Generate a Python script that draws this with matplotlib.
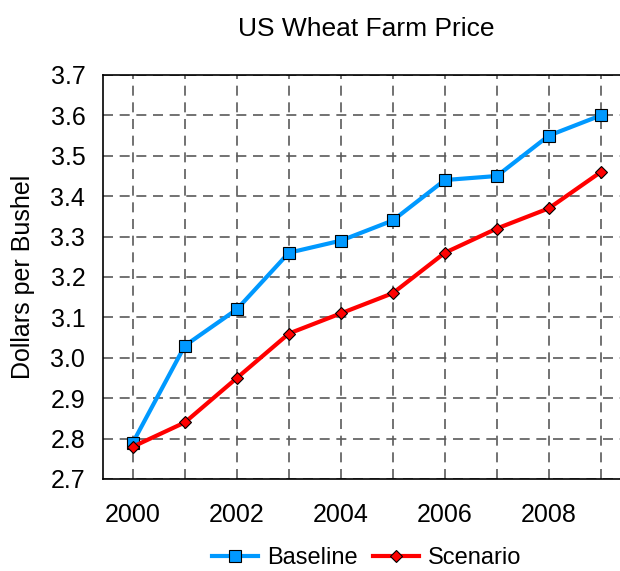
import matplotlib
matplotlib.use("Agg")
import matplotlib.pyplot as plt

plt.rcParams['font.family'] = ['Liberation Sans', 'DejaVu Sans']

years = [2000, 2001, 2002, 2003, 2004, 2005, 2006, 2007, 2008, 2009]
baseline = [2.79, 3.03, 3.12, 3.26, 3.29, 3.34, 3.44, 3.45, 3.55, 3.60]
scenario = [2.78, 2.84, 2.95, 3.06, 3.11, 3.16, 3.26, 3.32, 3.37, 3.46]
yticks = [2.7, 2.8, 2.9, 3.0, 3.1, 3.2, 3.3, 3.4, 3.5, 3.6, 3.7]
xticks = [2000, 2002, 2004, 2006, 2008]

fig = plt.figure(figsize=(6.2, 5.71), dpi=100)
ax = fig.add_axes([102.7 / 620, 92 / 571, (630 - 102.7) / 620, 404 / 571])

ax.plot(years, baseline, color='#0099FF', lw=3, marker='s', ms=8,
        mfc='#0099FF', mec='black', mew=0.8, label='Baseline', zorder=3,
        clip_on=False)
ax.plot(years, scenario, color='#FF0000', lw=3, marker='D', ms=6,
        mfc='#FF0000', mec='black', mew=0.8, label='Scenario', zorder=3,
        clip_on=False)

ax.set_xlim(1999.42, 2009.56)
ax.set_ylim(2.7, 3.7)
ax.set_yticks(yticks)
ax.set_yticklabels([f"{v:.1f}" for v in yticks])
ax.set_xticks(years)
ax.set_xticklabels([str(y) if y in xticks else '' for y in years])
ax.tick_params(axis='both', length=0, labelsize=18)
ax.tick_params(axis='x', pad=17)
ax.tick_params(axis='y', pad=12.5)
ax.grid(True, color='#5a5a5a', linestyle=(0, (6, 4)), lw=1.2)
ax.spines['right'].set_visible(False)
for s in ['top', 'left', 'bottom']:
    ax.spines[s].set_linewidth(1.2)

ax.set_ylabel('Dollars per Bushel', fontsize=18, labelpad=11)
ax.set_title('US Wheat Farm Price', fontsize=19, pad=28)

ax.legend(loc='center', bbox_to_anchor=(0.5, (479 - 558) / 404), ncol=2,
          frameon=False, fontsize=17, handlelength=1.95, columnspacing=0.64,
          handletextpad=0.38, borderpad=0.1)

fig.savefig('out.png', dpi=100)
